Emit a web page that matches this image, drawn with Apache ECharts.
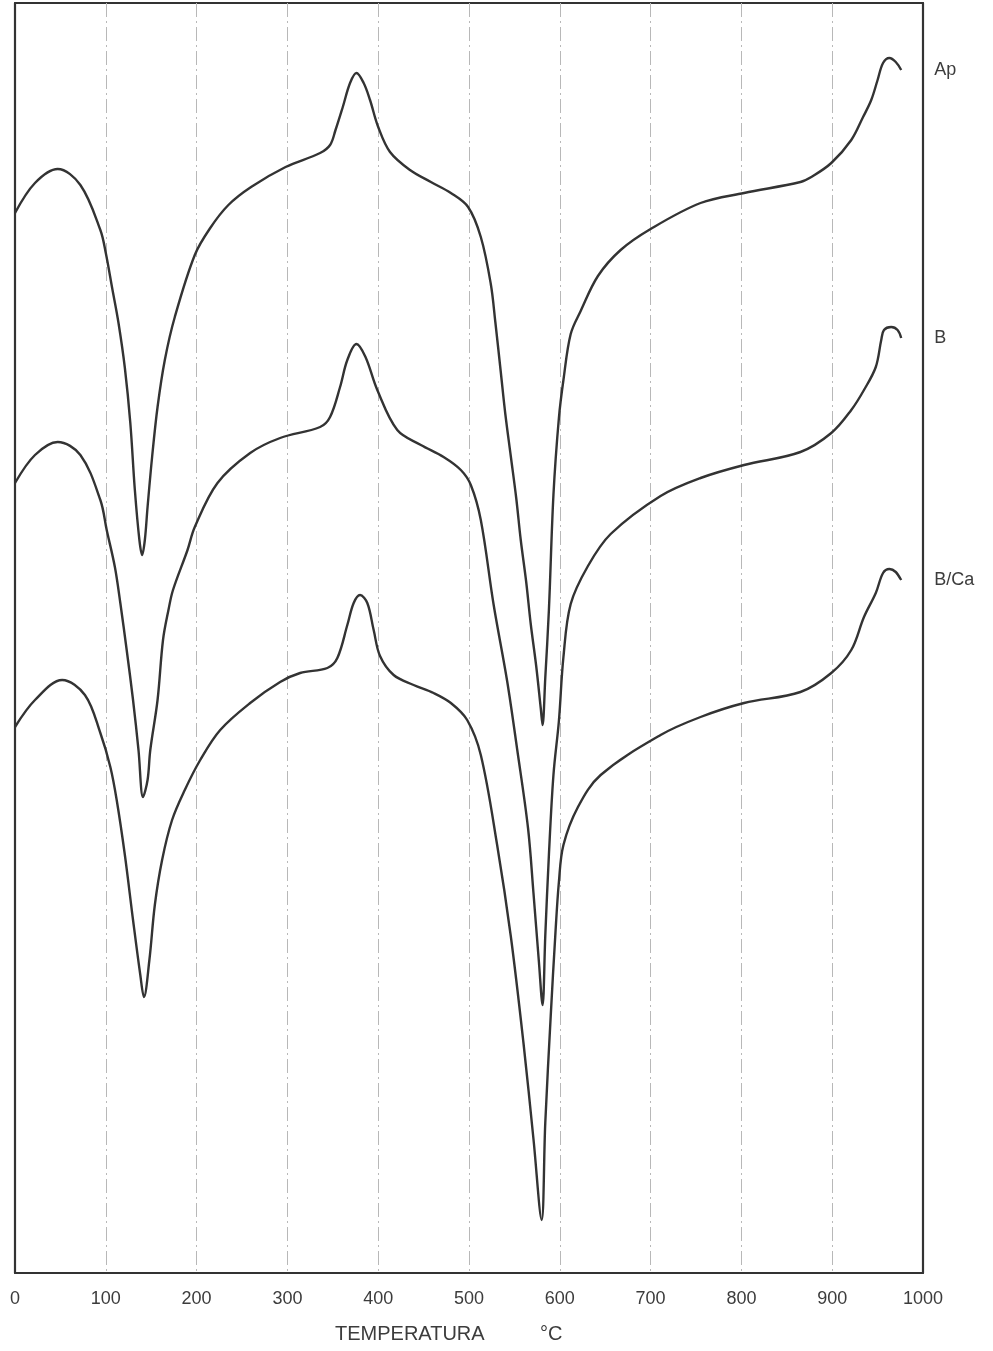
<!DOCTYPE html>
<html>
<head>
<meta charset="utf-8">
<script src="https://cdn.jsdelivr.net/npm/echarts@6/dist/echarts.min.js"></script>
<style>
  html, body { margin: 0; padding: 0; background: #fff; }
  #chart { width: 993px; height: 1351px; }
</style>
</head>
<body>
<div id="chart"></div>
<script>
// DTA curves: temperature (°C) and signal (arbitrary units, curves stacked)
const tempTicks = [0, 100, 200, 300, 400, 500, 600, 700, 800, 900, 1000];

const apT = [0, 22, 47, 72, 94, 100, 107, 114, 121, 127, 132, 137, 140, 143, 146, 151, 157, 165, 176, 198, 215, 235, 260, 298, 336, 347, 353, 361, 369, 376, 384, 391, 400, 413, 435, 458, 480, 499, 513, 524, 529, 535, 540, 546, 552, 557, 563, 568, 574, 579, 581, 584, 588, 593, 599, 604, 612, 623, 642, 667, 700, 755, 803, 865, 877, 899, 921, 934, 943, 950, 956, 963, 970, 976];
const apV = [106.0, 109.0, 110.4, 108.8, 104.3, 102.0, 98.5, 95.0, 90.5, 85.0, 78.3, 73.3, 71.8, 73.3, 76.6, 81.6, 86.6, 91.3, 95.6, 101.8, 104.5, 106.8, 108.6, 110.6, 112.0, 112.8, 114.3, 116.6, 119.0, 120.0, 119.0, 117.3, 114.6, 112.1, 110.3, 109.1, 108.0, 106.6, 103.6, 98.9, 95.1, 90.1, 85.9, 81.7, 77.5, 73.3, 69.1, 64.9, 60.7, 56.5, 54.8, 59.5, 66.3, 77.8, 85.5, 89.3, 93.9, 96.2, 99.7, 102.3, 104.4, 107.0, 108.0, 109.1, 109.6, 111.0, 113.3, 115.6, 117.3, 119.3, 121.0, 121.5, 121.1, 120.3];

const bT = [0, 22, 47, 72, 94, 101, 110, 116, 123, 130, 136, 141, 146, 149, 157, 163, 169, 174, 190, 198, 223, 259, 292, 336, 347, 358, 366, 376, 386, 399, 421, 447, 472, 491, 502, 513, 527, 542, 553, 565, 571, 577, 581, 584, 588, 593, 599, 604, 612, 631, 656, 711, 755, 803, 865, 899, 921, 935, 948, 954, 957, 965, 972, 976];
const bV = [79.0, 81.8, 83.1, 81.8, 77.3, 74.3, 70.6, 67.0, 62.3, 57.3, 52.3, 47.6, 49.3, 52.3, 57.3, 63.3, 66.3, 68.3, 72.3, 74.6, 79.0, 82.0, 83.5, 84.6, 85.6, 88.6, 91.3, 92.9, 91.6, 88.3, 84.3, 82.8, 81.6, 80.3, 78.8, 75.3, 66.9, 59.2, 52.4, 44.5, 38.0, 31.1, 26.8, 33.7, 41.8, 49.8, 55.2, 61.6, 66.9, 70.7, 73.9, 77.7, 79.5, 80.8, 82.1, 84.0, 86.3, 88.3, 90.6, 93.3, 94.3, 94.6, 94.3, 93.5];

const bcaT = [0, 22, 52, 77, 94, 105, 112, 121, 130, 138, 142, 148, 154, 162, 173, 187, 204, 226, 259, 292, 314, 344, 355, 366, 373, 380, 388, 395, 402, 417, 439, 461, 480, 498, 513, 531, 546, 560, 571, 580, 584, 590, 595, 599, 604, 620, 645, 711, 755, 803, 865, 899, 921, 935, 948, 956, 963, 970, 976];
const bcaV = [54.6, 57.3, 59.3, 57.8, 54.0, 50.6, 47.3, 41.8, 35.3, 29.8, 27.6, 31.3, 36.8, 41.3, 45.3, 48.3, 51.3, 54.3, 57.0, 59.1, 60.0, 60.5, 61.5, 64.8, 67.0, 67.8, 67.0, 64.3, 61.7, 59.8, 58.8, 58.0, 57.0, 55.3, 51.8, 42.8, 33.7, 23.0, 13.4, 5.3, 15.0, 25.7, 33.7, 39.1, 42.8, 46.6, 49.8, 53.8, 55.6, 57.0, 58.1, 60.0, 62.3, 65.6, 68.0, 70.0, 70.4, 70.1, 69.3];

const seriesNames = ['Ap', 'B', 'B/Ca'];
const xTitle = 'TEMPERATURA';
const xUnit = '°C';

function pairs(xs, ys) { return xs.map((x, i) => [x, ys[i]]); }

const ink = '#333';
const textColor = '#3c3c3c';
const font = '"Liberation Sans", Arial, sans-serif';
const frameLine = { show: true, onZero: false, lineStyle: { color: ink, width: 2.2 } };

const chart = echarts.init(document.getElementById('chart'), null, { renderer: 'canvas' });

function curve(name, xs, ys) {
  return {
    name: name,
    type: 'line',
    data: pairs(xs, ys),
    showSymbol: false,
    smooth: 0.35,
    lineStyle: { color: ink, width: 2.4 },
    itemStyle: { color: ink },
    emphasis: { disabled: true },
    endLabel: {
      show: true,
      formatter: '{a}',
      distance: 33,
      color: textColor,
      fontFamily: font,
      fontSize: 18
    }
  };
}

chart.setOption({
  animation: false,
  backgroundColor: '#fff',
  grid: { left: 15, right: 70, top: 3, bottom: 78 },
  xAxis: [
    {
      type: 'value',
      position: 'bottom',
      min: 0, max: 1000, interval: 100,
      axisLine: frameLine,
      axisTick: { show: false },
      axisLabel: {
        margin: 17,
        color: textColor,
        fontFamily: font,
        fontSize: 18,
        formatter: v => tempTicks.includes(v) ? String(v) : ''
      },
      splitLine: {
        show: true,
        showMinLine: false,
        showMaxLine: false,
        lineStyle: { color: '#b8b8b8', width: 1, type: [14, 4, 2, 4] }
      },
      z: 1
    },
    {
      type: 'value',
      position: 'top',
      min: 0, max: 1000,
      axisLine: frameLine,
      axisTick: { show: false },
      axisLabel: { show: false },
      splitLine: { show: false }
    }
  ],
  yAxis: [
    {
      type: 'value',
      position: 'left',
      min: 0, max: 127,
      axisLine: frameLine,
      axisTick: { show: false },
      axisLabel: { show: false },
      splitLine: { show: false }
    },
    {
      type: 'value',
      position: 'right',
      min: 0, max: 127,
      axisLine: frameLine,
      axisTick: { show: false },
      axisLabel: { show: false },
      splitLine: { show: false }
    }
  ],
  graphic: [
    {
      type: 'text', left: 335, top: 1324,
      style: { text: xTitle, fill: textColor, font: '20px ' + font }
    },
    {
      type: 'text', left: 540, top: 1324,
      style: { text: xUnit, fill: textColor, font: '20px ' + font }
    }
  ],
  series: [
    curve(seriesNames[0], apT, apV),
    curve(seriesNames[1], bT, bV),
    curve(seriesNames[2], bcaT, bcaV)
  ]
});
</script>
</body>
</html>
